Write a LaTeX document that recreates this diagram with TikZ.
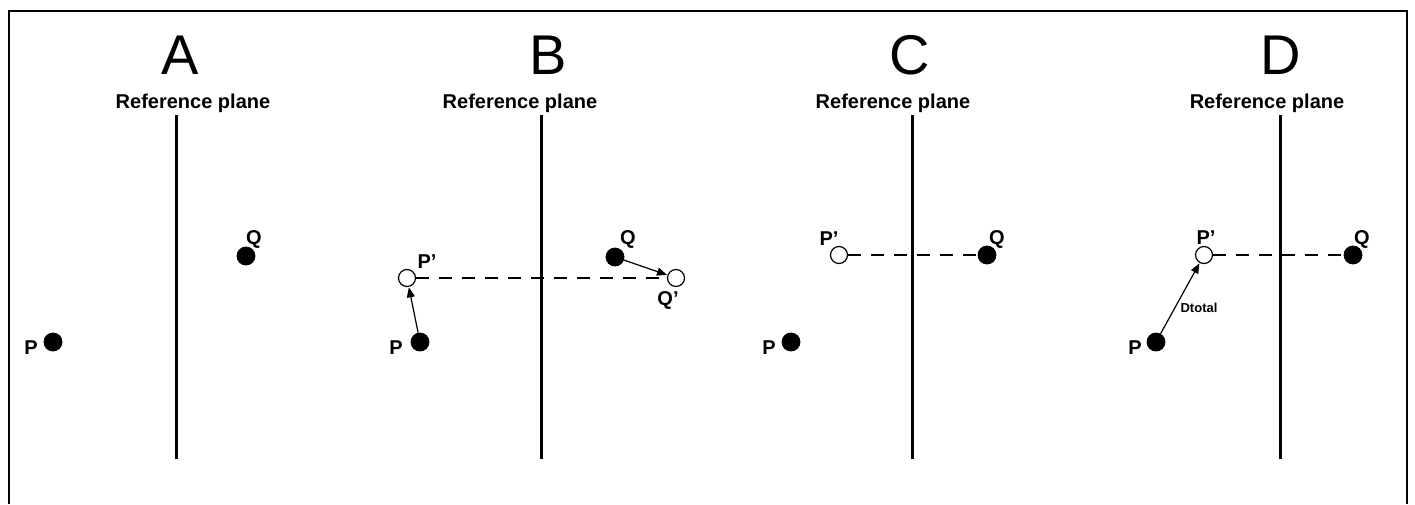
\documentclass[tikz,border=0pt]{standalone}
\usepackage{fontspec}
\setmainfont{Liberation Sans}
\usetikzlibrary{arrows.meta}
\begin{document}
\begin{tikzpicture}[x=0.5pt,y=-0.5pt,
  title/.style={font=\fontsize{28}{30}\selectfont, inner sep=0pt},
  planelabel/.style={font=\bfseries\fontsize{10}{12}\selectfont, inner sep=0pt},
  plane/.style={line width=1.5pt},
  fdot/.style={circle, fill=black, draw=black, minimum size=9pt, inner sep=0pt},
  odot/.style={circle, fill=white, draw=black, line width=0.6pt, minimum size=8.5pt, inner sep=0pt},
  lbl/.style={font=\bfseries\fontsize{10}{11}\selectfont, inner sep=0pt},
  small/.style={font=\bfseries\fontsize{6.5}{7}\selectfont, inner sep=0pt},
  move/.style={line width=0.6pt, -{Triangle[length=5pt,width=4pt]}, shorten >=0.2pt},
  proj/.style={line width=0.75pt, dash pattern=on 6.5pt off 5pt}
]
\useasboundingbox (0,0) rectangle (1415,504);
\draw[line width=1pt] (9,504) -- (9,11) -- (1407,11) -- (1407,504);

% titles
\node[title] (tA) at (180,55) {A};
\node[title] (tB) at (548,55) {B};
\node[title] (tC) at (910,55) {C};
\node[title] (tD) at (1281,55) {D};

% reference plane labels
\node[planelabel] (rA) at (193,103) {Reference plane};
\node[planelabel] (rB) at (520,103) {Reference plane};
\node[planelabel] (rC) at (893,103) {Reference plane};
\node[planelabel] (rD) at (1267,103) {Reference plane};

% planes
\coordinate (a1) at (176,115); \coordinate (a2) at (176,459);
\coordinate (b1) at (541,115); \coordinate (b2) at (541,459);
\coordinate (c1) at (912,115); \coordinate (c2) at (912,459);
\coordinate (d1) at (1280,115); \coordinate (d2) at (1280,459);
\draw[plane] (a1) -- (a2);
\draw[plane] (b1) -- (b2);
\draw[plane] (c1) -- (c2);
\draw[plane] (d1) -- (d2);

% Panel A
\node[fdot] (PA) at (53,342) {};
\node[fdot] (QA) at (246,256) {};
\node[lbl] (PAl) at (31,348) {P};
\node[lbl] (QAl) at (254,239) {Q};

% Panel B
\node[fdot] (PB) at (420,342) {};
\node[odot] (PpB) at (407,278) {};
\node[fdot] (QB) at (615,257) {};
\node[odot] (QpB) at (676,278) {};
\draw[proj] (PpB) -- (QpB);
\draw[move] (PB) -- (PpB);
\draw[move] (QB) -- (QpB);
\node[lbl] (PBl) at (396,348) {P};
\node[lbl] (PpBl) at (427,262) {P'};
\node[lbl] (QBl) at (628,239) {Q};
\node[lbl] (QpBl) at (668,300) {Q'};

% Panel C
\node[fdot] (PC) at (791,342) {};
\node[odot] (PpC) at (839,255) {};
\node[fdot] (QC) at (987,255) {};
\draw[proj] (PpC) -- (QC);
\node[lbl] (PCl) at (769,348) {P};
\node[lbl] (PpCl) at (829,239) {P'};
\node[lbl] (QCl) at (997,239) {Q};

% Panel D
\node[fdot] (PD) at (1156,342) {};
\node[odot] (PpD) at (1204,255) {};
\node[fdot] (QD) at (1353,255) {};
\draw[proj] (PpD) -- (QD);
\draw[move] (PD) -- (PpD);
\node[lbl] (PDl) at (1135,348) {P};
\node[lbl] (PpDl) at (1206,238) {P'};
\node[lbl] (QDl) at (1362,239) {Q};
\node[small] (Dt) at (1199,308) {Dtotal};
\end{tikzpicture}
\end{document}
